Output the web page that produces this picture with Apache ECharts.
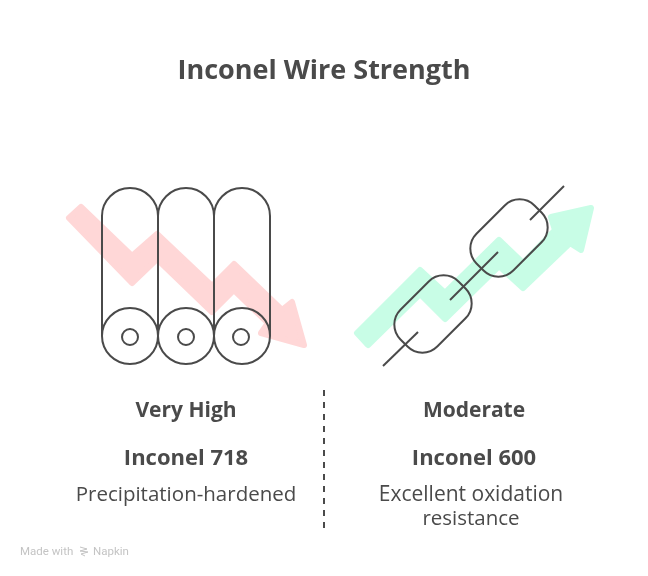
<!DOCTYPE html>
<html style="height: 100%">
    <head>
        <title>Inconel Wire Strength</title>
        <script type="text/javascript" src="https://fastly.jsdelivr.net/npm/echarts@6/dist/echarts.min.js"></script>
    </head>
    <body style="height: 100%; margin: 0; background: #fff">
        <div id="target" style="width: 648px; height: 576px"></div>

<script>
// x and y in the picture's own units
let chartTitle = "Inconel Wire Strength";
let leftLines  = ["Very High", "Inconel 718", "Precipitation-hardened"];
let rightLines = ["Moderate", "Inconel 600", "Excellent oxidation", "resistance"];
let footerLeft  = "Made with";
let footerRight = "Napkin";

let redArrow = [
    [69, 218], [81, 207], [132, 256], [157, 234], [212, 286], [234, 264], [282, 310],
    [292, 302], [304, 345], [261, 333], [268, 323], [234, 290], [212, 312], [157, 259], [132, 283],
];
let greenArrow = [
    [357, 333], [420, 270], [445, 293], [499, 240], [523, 263], [555, 230], [551, 217],
    [591, 208], [581, 250], [570, 243], [523, 288], [499, 266], [445, 319], [420, 294], [368, 345],
];

// center x, top y, axis y
let rollers = [
    [130, 188, 336],
    [186, 188, 336],
    [242, 188, 336],
];
let rollerCores = [
    [130, 337],
    [186, 337],
    [241, 337],
];

// center x, center y
let chainLinks = [
    [433, 314],
    [509, 238],
];
let chainRods = [
    [[383, 366], [418, 332]],
    [[450, 300], [498, 252]],
    [[530, 220], [564, 186]],
];
let divider = [[324, 390], [324, 529]];
let napkinMark = [[80, 547], [87, 549], [80, 551], [88, 552], [81, 554], [85, 556]];

const INK = "#4a4a4a";

let chart = echarts.init(document.getElementById('target'), null, { renderer: "canvas" });
window.addEventListener("resize", chart.resize);

let MakeLine = (data, style) => {
    return {
        type: "line",
        data: data,
        symbol: "none",
        silent: true,
        z: 5,
        lineStyle: style,
    };
};

// filled outline, drawn once from all of the series' rows
let MakeArrow = (data, color) => {
    return {
        type: "custom",
        data: data,
        silent: true,
        z: 1,
        renderItem: (params, api) => {
            if (params.dataIndex != 0) { return null; }

            let points = data.map((row, i) => api.coord([api.value(0, i), api.value(1, i)]));

            return {
                type: "polygon",
                shape: { points: points },
                style: { fill: color, stroke: color, lineWidth: 6, lineJoin: "round" },
            };
        },
    };
};

let MakeText = (text, x, y, size, weight) => {
    return {
        text: text,
        left: x,
        top: y,
        textAlign: "center",
        textVerticalAlign: "middle",
        padding: 0,
        textStyle: {
            fontFamily: "Open Sans",
            fontSize: size,
            fontWeight: weight,
            color: INK,
        },
    };
};

let option = {
    animation: false,
    backgroundColor: "#ffffff",
    grid: { left: 0, right: 0, top: 0, bottom: 0 },
    xAxis: { type: "value", min: 0, max: 648, show: false },
    yAxis: { type: "value", min: 0, max: 576, inverse: true, show: false },
    title: [
        MakeText(chartTitle, 324, 71, 27, "bold"),
        MakeText(leftLines[0], 186, 411, 21, "bold"),
        MakeText(leftLines[1], 186, 459, 22, "bold"),
        MakeText(leftLines[2], 186, 495, 20.5, "normal"),
        MakeText(rightLines[0], 474, 411, 21, "bold"),
        MakeText(rightLines[1], 474, 459, 22, "bold"),
        MakeText(rightLines[2], 471, 495, 21, "normal"),
        MakeText(rightLines[3], 471, 519, 20.5, "normal"),
        {
            text: footerLeft,
            left: 20,
            top: 543,
            padding: 0,
            textStyle: { fontFamily: "Roboto", fontSize: 11.5, fontWeight: "normal", color: "#c4c4c4" },
        },
        {
            text: footerRight,
            left: 93,
            top: 543,
            padding: 0,
            textStyle: { fontFamily: "Roboto", fontSize: 11.5, fontWeight: "normal", color: "#c4c4c4" },
        },
    ],
    series: [
        MakeArrow(redArrow, "#ffd7d7"),
        MakeArrow(greenArrow, "#c8fde6"),
        {
            type: "custom",
            data: rollers,
            silent: true,
            z: 5,
            renderItem: (params, api) => {
                let top = api.coord([api.value(0), api.value(1)]);
                let axis = api.coord([api.value(0), api.value(2)]);
                let r = api.size([28, 0])[0];

                return {
                    type: "group",
                    children: [
                        {
                            type: "arc",
                            shape: { cx: top[0], cy: top[1] + r, r: r, startAngle: Math.PI, endAngle: 0, clockwise: true },
                            style: { fill: "none", stroke: INK, lineWidth: 2 },
                        },
                        {
                            type: "polyline",
                            shape: { points: [[top[0] - r, top[1] + r], [axis[0] - r, axis[1]]] },
                            style: { fill: "none", stroke: INK, lineWidth: 2 },
                        },
                        {
                            type: "polyline",
                            shape: { points: [[top[0] + r, top[1] + r], [axis[0] + r, axis[1]]] },
                            style: { fill: "none", stroke: INK, lineWidth: 2 },
                        },
                        {
                            type: "circle",
                            shape: { cx: axis[0], cy: axis[1], r: r },
                            style: { fill: "none", stroke: INK, lineWidth: 2 },
                        },
                    ],
                };
            },
        },
        {
            type: "scatter",
            data: rollerCores,
            symbol: "circle",
            symbolSize: 16,
            silent: true,
            z: 5,
            itemStyle: { color: "rgba(0,0,0,0)", borderColor: INK, borderWidth: 2, opacity: 1 },
        },
        {
            type: "custom",
            data: chainLinks,
            silent: true,
            z: 5,
            renderItem: (params, api) => {
                let center = api.coord([api.value(0), api.value(1)]);

                return {
                    type: "rect",
                    x: center[0],
                    y: center[1],
                    rotation: Math.PI / 4,
                    shape: { x: -41, y: -26, width: 82, height: 52, r: 21 },
                    style: { fill: "none", stroke: INK, lineWidth: 2 },
                };
            },
        },
        ...chainRods.map(rod => MakeLine(rod, { color: INK, width: 2 })),
        MakeLine(divider, { color: INK, width: 2, type: [6, 6] }),
        MakeLine(napkinMark, { color: "#c4c4c4", width: 1 }),
    ],
};

chart.setOption(option);
</script>
    </body>
</html>
